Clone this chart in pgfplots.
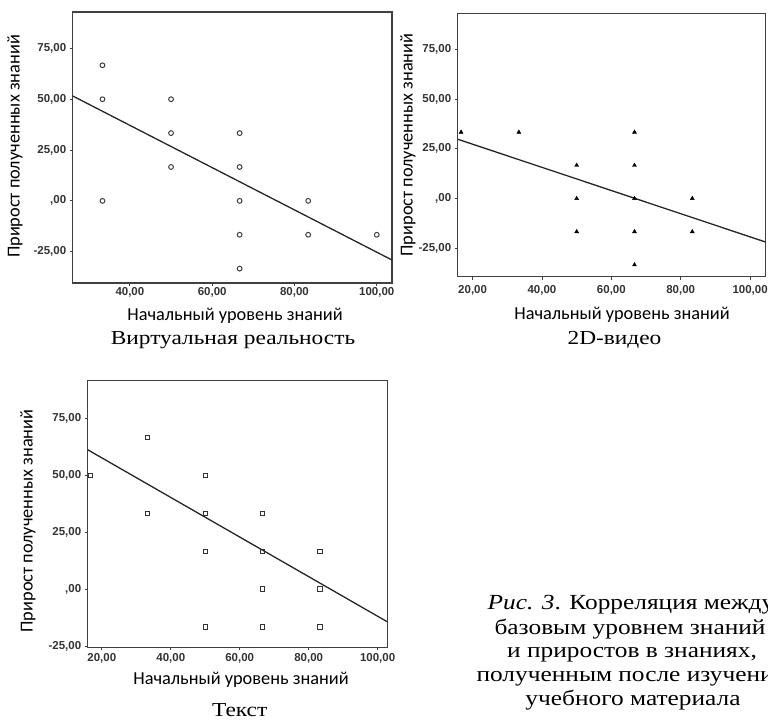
\documentclass[border=0pt]{standalone}
\usepackage{fontspec}
\setmainfont{Liberation Serif}
\newfontfamily\capwide[FakeStretch=1.18]{Liberation Serif}
\newfontfamily\arial{Liberation Sans}
\newfontfamily\calib{Carlito}
\usepackage{pgfplots}
\pgfplotsset{compat=1.18}

\pgfplotsset{
  spss/.style={
    scale only axis, clip=true,
    axis line style={draw=black!75, line width=1.3pt},
    tick style={draw=black!75, line width=0.8pt},
    tick align=outside, major tick length=3pt,
    xtick pos=left, ytick pos=left,
    ticklabel style={font=\arial\bfseries\fontsize{11.5}{12}\selectfont, text=black!80},
    ytick={-25,0,25,50,75},
    yticklabels={{-25,00},{,00},{25,00},{50,00},{75,00}},
  },
  fitline/.style={black!85, line width=1.3pt, no marks},
}
\newcommand\axlab{\calib\fontsize{18.3}{20}\selectfont}
\newcommand\capf{\capwide\fontsize{19.8}{24}\selectfont}
\newcommand\figf{\capwide\fontsize{21.5}{24}\selectfont}

\begin{document}
\begin{tikzpicture}
\useasboundingbox (0,0) rectangle (768pt,720pt);

% --- Виртуальная реальность
\begin{axis}[spss, at={(72.7pt,437pt)}, anchor=south west,
  width=319.3pt, height=271pt,
  xmin=26.1, xmax=103.7, ymin=-40.4, ymax=92.9,
  xtick={40,60,80,100},
  xticklabels={{40,00},{60,00},{80,00},{100,00}},
  xticklabel style={yshift=2pt}]
  \addplot[only marks, mark=o, mark size=2.4pt, black!75, line width=1pt]
    coordinates {(33.33,66.67)(33.33,50)(33.33,0)
                 (50,50)(50,33.33)(50,16.67)
                 (66.67,33.33)(66.67,16.67)(66.67,0)(66.67,-16.67)(66.67,-33.33)
                 (83.33,0)(83.33,-16.67)(100,-16.67)};
  \addplot[fitline] coordinates {(26.1,51.6)(103.7,-29.1)};
\end{axis}

% --- 2D-видео
\begin{axis}[spss, at={(457.7pt,443.3pt)}, anchor=south west,
  width=308pt, height=263.4pt,
  xmin=15.7, xmax=104.5, ymin=-39.3, ymax=93.1,
  xtick={20,40,60,80,100},
  xticklabels={{20,00},{40,00},{60,00},{80,00},{100,00}},
  xticklabel style={yshift=-2pt}]
  \addplot[only marks, mark=triangle*, mark size=2.3pt, black]
    coordinates {(16.67,33.33)(33.33,33.33)
                 (50,16.67)(50,0)(50,-16.67)
                 (66.67,33.33)(66.67,16.67)(66.67,0)(66.67,-16.67)(66.67,-33.33)
                 (83.33,0)(83.33,-16.67)};
  \addplot[fitline] coordinates {(15.7,29.8)(104.5,-21.9)};
\end{axis}

% --- Текст
\begin{axis}[spss, at={(87.7pt,72.7pt)}, anchor=south west,
  width=299.6pt, height=266.6pt,
  xmin=15.9, xmax=102.8, ymin=-25.5, ymax=91.5,
  xtick={20,40,60,80,100},
  xticklabels={{20,00},{40,00},{60,00},{80,00},{100,00}}]
  \addplot[only marks, mark=square, mark size=2.2pt, black!80, line width=1pt]
    coordinates {(16.67,50)(33.33,66.67)(33.33,33.33)
                 (50,50)(50,33.33)(50,16.67)(50,-16.67)
                 (66.67,33.33)(66.67,16.67)(66.67,0)(66.67,-16.67)
                 (83.33,16.67)(83.33,0)(83.33,-16.67)};
  \addplot[fitline] coordinates {(15.9,61.2)(102.8,-14.3)};
\end{axis}

% axis titles
\node[rotate=90, font=\axlab] at (15pt,573.5pt) {Прирост полученных знаний};
\node[rotate=90, font=\axlab] at (408pt,575pt) {Прирост полученных знаний};
\node[rotate=90, font=\axlab] at (28pt,199pt) {Прирост полученных знаний};
\node[font=\axlab] at (235pt,404pt) {Начальный уровень знаний};
\node[font=\axlab] at (622pt,405pt) {Начальный уровень знаний};
\node[font=\axlab] at (241pt,40pt) {Начальный уровень знаний};

% panel captions
\node[font=\capf, anchor=base] at (233pt,375pt) {Виртуальная реальность};
\node[font=\capf, anchor=base] at (614.5pt,375pt) {2D-видео};
\node[font=\capf, anchor=base] at (239.7pt,4pt) {Текст};

% figure caption
\node[font=\figf, anchor=base] at (631pt,110pt) {{\itshape Рис. 3}. Корреляция между};
\node[font=\figf, anchor=base] at (630pt,85pt) {базовым уровнем знаний};
\node[font=\figf, anchor=base] at (632pt,62pt) {и приростов в знаниях,};
\node[font=\figf, anchor=base] at (631pt,38pt) {полученным после изучения};
\node[font=\figf, anchor=base] at (633pt,15pt) {учебного материала};
\end{tikzpicture}
\end{document}
